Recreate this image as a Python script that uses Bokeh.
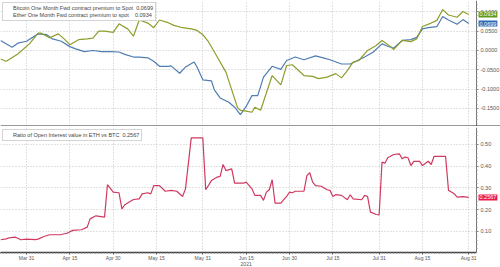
import numpy as np
import pandas as pd
from bokeh.plotting import figure
from bokeh.models import (Range1d, FixedTicker, NumeralTickFormatter, Legend, LegendItem,
                          Label, Span, BoxAnnotation)
from bokeh.layouts import column
from bokeh.embed import file_html
from bokeh.resources import INLINE

# ---------------- data ----------------
btc_dates = ["2021-03-22", "2021-03-26", "2021-03-28", "2021-03-31", "2021-04-04", "2021-04-07",
             "2021-04-09", "2021-04-12", "2021-04-15", "2021-04-17", "2021-04-20", "2021-04-23",
             "2021-04-26", "2021-04-29", "2021-05-02", "2021-05-04", "2021-05-07", "2021-05-09",
             "2021-05-12", "2021-05-14", "2021-05-16", "2021-05-19", "2021-05-20", "2021-05-23",
             "2021-05-25", "2021-05-28", "2021-05-29", "2021-05-31", "2021-06-03", "2021-06-04",
             "2021-06-06", "2021-06-09", "2021-06-11", "2021-06-13", "2021-06-15", "2021-06-17",
             "2021-06-19", "2021-06-21", "2021-06-24", "2021-06-27", "2021-06-29", "2021-07-02",
             "2021-07-05", "2021-07-09", "2021-07-12", "2021-07-14", "2021-07-18", "2021-07-21",
             "2021-07-23", "2021-07-26", "2021-07-29", "2021-08-01", "2021-08-03", "2021-08-05",
             "2021-08-08", "2021-08-11", "2021-08-13", "2021-08-15", "2021-08-17", "2021-08-20",
             "2021-08-22", "2021-08-24", "2021-08-27", "2021-08-29", "2021-08-31"]
btc_vals = [0.026, 0.0085, 0.019, 0.024, 0.043, 0.041,
            0.030, 0.024, 0.010, 0.004, -0.003, 0.000,
            -0.003, -0.003, -0.004, -0.010, -0.017, -0.017,
            -0.019, -0.028, -0.041, -0.041, -0.040, -0.059,
            -0.043, -0.030, -0.043, -0.076, -0.079, -0.102,
            -0.123, -0.134, -0.147, -0.166, -0.145, -0.117,
            -0.117, -0.069, -0.041, -0.049, -0.026, -0.017,
            -0.024, -0.014, -0.020, -0.024, -0.035, -0.035,
            -0.028, -0.017, -0.004, 0.017, 0.011, 0.006,
            0.026, 0.028, 0.034, 0.056, 0.059, 0.062,
            0.088, 0.079, 0.068, 0.080, 0.0699]

eth_dates = ["2021-03-22", "2021-03-24", "2021-03-28", "2021-04-01", "2021-04-04", "2021-04-05",
             "2021-04-08", "2021-04-11", "2021-04-13", "2021-04-15", "2021-04-18", "2021-04-21",
             "2021-04-23", "2021-04-25", "2021-04-27", "2021-04-30", "2021-05-02", "2021-05-05",
             "2021-05-07", "2021-05-09", "2021-05-12", "2021-05-14", "2021-05-16", "2021-05-19",
             "2021-05-21", "2021-05-24", "2021-05-27", "2021-05-29", "2021-05-31", "2021-06-02",
             "2021-06-05", "2021-06-08", "2021-06-10", "2021-06-12", "2021-06-13", "2021-06-15",
             "2021-06-17", "2021-06-18", "2021-06-20", "2021-06-24", "2021-06-27", "2021-06-29",
             "2021-07-01", "2021-07-05", "2021-07-08", "2021-07-10", "2021-07-13", "2021-07-16",
             "2021-07-18", "2021-07-20", "2021-07-22", "2021-07-24", "2021-07-27", "2021-07-30",
             "2021-08-01", "2021-08-04", "2021-08-05", "2021-08-08", "2021-08-11", "2021-08-13",
             "2021-08-15", "2021-08-18", "2021-08-20", "2021-08-22", "2021-08-24", "2021-08-27",
             "2021-08-29", "2021-08-31"]
eth_vals = [-0.022, -0.028, -0.009, 0.017, 0.045, 0.045,
            0.033, 0.043, 0.030, 0.015, 0.028, 0.030,
            0.032, 0.050, 0.050, 0.047, 0.069, 0.056,
            0.037, 0.079, 0.071, 0.059, 0.079, 0.072,
            0.065, 0.059, 0.056, 0.052, 0.041, 0.022,
            -0.017, -0.056, -0.102, -0.148, -0.155, -0.157,
            -0.160, -0.147, -0.155, -0.065, -0.089, -0.039,
            -0.037, -0.065, -0.067, -0.073, -0.069, -0.060,
            -0.071, -0.052, -0.030, -0.026, 0.000, 0.013,
            0.026, 0.010, 0.002, 0.026, 0.023, 0.030,
            0.062, 0.071, 0.078, 0.106, 0.092, 0.086,
            0.101, 0.0934]

ratio_dates = ["2021-03-22", "2021-03-24", "2021-03-25", "2021-03-27", "2021-03-28", "2021-03-29",
               "2021-03-31", "2021-04-03", "2021-04-04", "2021-04-06", "2021-04-08", "2021-04-12",
               "2021-04-14", "2021-04-16", "2021-04-19", "2021-04-21", "2021-04-22", "2021-04-24",
               "2021-04-27", "2021-04-28", "2021-04-30", "2021-05-02", "2021-05-03", "2021-05-04",
               "2021-05-07", "2021-05-09", "2021-05-10", "2021-05-12", "2021-05-13", "2021-05-14",
               "2021-05-16", "2021-05-18", "2021-05-20", "2021-05-22", "2021-05-24", "2021-05-25",
               "2021-05-27", "2021-05-31", "2021-06-01", "2021-06-03", "2021-06-05", "2021-06-06",
               "2021-06-07", "2021-06-08", "2021-06-10", "2021-06-11", "2021-06-14", "2021-06-15",
               "2021-06-17", "2021-06-18", "2021-06-20", "2021-06-21", "2021-06-22", "2021-06-23",
               "2021-06-24", "2021-06-25", "2021-06-27", "2021-06-28", "2021-06-29", "2021-06-30",
               "2021-07-01", "2021-07-02", "2021-07-05", "2021-07-06", "2021-07-07", "2021-07-08",
               "2021-07-09", "2021-07-11", "2021-07-13", "2021-07-14", "2021-07-15", "2021-07-16",
               "2021-07-18", "2021-07-20", "2021-07-21", "2021-07-22", "2021-07-25", "2021-07-26",
               "2021-07-27", "2021-07-28", "2021-07-30", "2021-07-31", "2021-08-01", "2021-08-02",
               "2021-08-03", "2021-08-05", "2021-08-07", "2021-08-08", "2021-08-09", "2021-08-10",
               "2021-08-11", "2021-08-12", "2021-08-14", "2021-08-15", "2021-08-17", "2021-08-18",
               "2021-08-19", "2021-08-23", "2021-08-24", "2021-08-26", "2021-08-27", "2021-08-29",
               "2021-08-31"]
ratio_vals = [0.062, 0.066, 0.071, 0.074, 0.069, 0.062,
              0.065, 0.063, 0.065, 0.077, 0.085, 0.086,
              0.092, 0.105, 0.108, 0.120, 0.158, 0.172,
              0.166, 0.315, 0.281, 0.278, 0.204, 0.223,
              0.247, 0.250, 0.273, 0.278, 0.273, 0.311,
              0.311, 0.285, 0.289, 0.285, 0.261, 0.296,
              0.530, 0.530, 0.292, 0.334, 0.350, 0.353,
              0.408, 0.380, 0.388, 0.322, 0.322, 0.327,
              0.296, 0.266, 0.266, 0.243, 0.281, 0.292,
              0.338, 0.230, 0.230, 0.246, 0.261, 0.281,
              0.278, 0.285, 0.285, 0.357, 0.370, 0.327,
              0.311, 0.308, 0.292, 0.289, 0.261, 0.269,
              0.266, 0.246, 0.269, 0.250, 0.246, 0.266,
              0.261, 0.189, 0.178, 0.176, 0.419, 0.414,
              0.439, 0.454, 0.457, 0.434, 0.442, 0.439,
              0.403, 0.422, 0.422, 0.403, 0.423, 0.408,
              0.445, 0.445, 0.290, 0.273, 0.258, 0.260,
              0.2567]

btc_label = "Bitcoin One Month Fwd contract premium to Spot  0.0699"
eth_label = "Ether One Month Fwd contract premium to spot    0.0934"
ratio_label = "Ratio of Open Interest value in ETH vs BTC  0.2567"
btc_last_text, eth_last_text, ratio_last_text = "0.0699", "0.0934", "0.2567"

x_tick_dates = ["2021-03-31", "2021-04-15", "2021-04-30", "2021-05-15", "2021-05-31", "2021-06-15",
                "2021-06-30", "2021-07-15", "2021-07-31", "2021-08-15", "2021-08-31"]
x_tick_labels = ["Mar 31", "Apr 15", "Apr 30", "May 15", "May 31", "Jun 15\n2021",
                 "Jun 30", "Jul 15", "Jul 31", "Aug 15", "Aug 31"]
top_ticks = [-0.15, -0.10, -0.05, 0.0, 0.05, 0.10]
bottom_ticks = [0.1, 0.2, 0.3, 0.4, 0.5]

# ---------------- styling ----------------
FONT = "Liberation Sans"
C_BTC = "#4f7db3"
C_ETH = "#8e9d2c"
C_RATIO = "#d0395f"
B_BTC = "#2b6cb5"
B_ETH = "#5f9a1c"
B_RATIO = "#e8194a"
GRID = "#c4c4c4"


def ms(s):
    return pd.Timestamp(s).value / 1e6


x_start = pd.Timestamp("2021-03-22 00:00")
x_end = pd.Timestamp("2021-09-11 00:00")        # right edge of the picture
axis_at = ms("2021-09-02 17:00")                # where the value axis sits
xr = Range1d(start=x_start, end=x_end)

tick_ms = [ms(d) for d in x_tick_dates]
minor_ms = [ms(d) for d in pd.date_range(x_start, pd.Timestamp("2021-09-02"), freq="D")]


def style_common(p, yticks, yminor, fmt):
    p.outline_line_color = None
    p.background_fill_color = "white"
    p.border_fill_color = "white"
    p.xgrid.ticker = FixedTicker(ticks=tick_ms)
    p.xgrid.grid_line_color = GRID
    p.xgrid.grid_line_dash = "1 2"
    p.ygrid.grid_line_color = GRID
    p.ygrid.grid_line_dash = "1 2"
    yt = FixedTicker(ticks=yticks, minor_ticks=yminor)
    p.ygrid.ticker = yt
    # white strip right of the value axis so grid lines stop at the axis
    p.add_layout(BoxAnnotation(left=axis_at, fill_color="white", fill_alpha=1.0,
                               line_color=None, level="glyph"))
    ax = p.yaxis[0]
    ax.fixed_location = axis_at
    ax.ticker = yt
    ax.formatter = NumeralTickFormatter(format=fmt)
    ax.axis_line_color = "#777777"
    ax.major_tick_line_color = "#777777"
    ax.minor_tick_line_color = "#999999"
    ax.major_tick_in = 0
    ax.major_tick_out = 2
    ax.minor_tick_in = 0
    ax.minor_tick_out = 1
    ax.major_label_standoff = 2
    ax.major_label_text_font = FONT
    ax.major_label_text_font_size = "5.5px"
    ax.major_label_text_color = "#555555"


def make_legend(p, items):
    leg = Legend(items=items, location="top_left")
    leg.label_text_font = FONT
    leg.label_text_font_size = "5.5px"
    leg.label_text_color = "#444444"
    leg.glyph_width = 5
    leg.glyph_height = 5
    leg.label_height = 6
    leg.label_standoff = 3
    leg.spacing = 1
    leg.padding = 2
    leg.margin = 2
    leg.border_line_color = "#aaaaaa"
    leg.background_fill_alpha = 0.95
    p.add_layout(leg)


def value_box(p, y, text, color):
    lab = Label(x=axis_at, y=y, x_offset=2, text=text, text_font=FONT,
                text_font_size="5.5px", text_color="white", text_baseline="middle",
                text_align="left", background_fill_color=color, padding=1)
    p.add_layout(lab)


# ---------------- top panel ----------------
p1 = figure(x_axis_type="datetime", x_range=xr, y_range=Range1d(-0.197, 0.1295),
            frame_width=500, frame_height=126, y_axis_location="right",
            output_backend="svg", toolbar_location=None,
            min_border_left=0, min_border_right=0, min_border_top=0, min_border_bottom=0)
p1.xaxis.visible = False
style_common(p1, top_ticks, [round(v, 3) for v in np.arange(-0.19, 0.13, 0.01)], "0.0000")

p1.line(pd.to_datetime(btc_dates), btc_vals, line_color=C_BTC, line_width=1.2)
p1.line(pd.to_datetime(eth_dates), eth_vals, line_color=C_ETH, line_width=1.2)
lg_btc = p1.scatter([], [], marker="square", size=5, color=B_BTC)
lg_eth = p1.scatter([], [], marker="square", size=5, color=B_ETH)
make_legend(p1, [LegendItem(label=btc_label, renderers=[lg_btc]),
                 LegendItem(label=eth_label, renderers=[lg_eth])])
p1.add_layout(Span(location=-0.197, dimension="width", line_color="#333333", line_width=2))
value_box(p1, eth_vals[-1], eth_last_text, B_ETH)
value_box(p1, btc_vals[-1], btc_last_text, B_BTC)

# ---------------- bottom panel ----------------
p2 = figure(x_axis_type="datetime", x_range=xr, y_range=Range1d(0.0034, 0.578),
            frame_width=500, frame_height=125, y_axis_location="right",
            output_backend="svg", toolbar_location=None,
            min_border_left=0, min_border_right=0, min_border_top=1, min_border_bottom=0)
style_common(p2, bottom_ticks, [round(v, 3) for v in np.arange(0.02, 0.58, 0.02)], "0.00")
xa = p2.xaxis[0]
xa.ticker = FixedTicker(ticks=tick_ms, minor_ticks=minor_ms)
xa.major_label_overrides = {t: l for t, l in zip(tick_ms, x_tick_labels)}
xa.bounds = (ms(x_start), axis_at)
xa.axis_line_color = "#444444"
xa.axis_line_width = 1.5
xa.major_tick_line_color = "#444444"
xa.minor_tick_line_color = "#777777"
xa.major_tick_in = 0
xa.major_tick_out = 2
xa.minor_tick_in = 0
xa.minor_tick_out = 1
xa.major_label_standoff = 0
xa.major_label_text_font = FONT
xa.major_label_text_font_size = "5px"
xa.major_label_text_color = "#555555"
xa.major_label_text_line_height = 1.1

p2.line(pd.to_datetime(ratio_dates), ratio_vals, line_color=C_RATIO, line_width=1.2)
lg_ratio = p2.scatter([], [], marker="square", size=5, color=B_RATIO)
make_legend(p2, [LegendItem(label=ratio_label, renderers=[lg_ratio])])
value_box(p2, ratio_vals[-1], ratio_last_text, B_RATIO)

layout = column(p1, p2, spacing=0)
open("out.html", "w").write(file_html(layout, INLINE))
